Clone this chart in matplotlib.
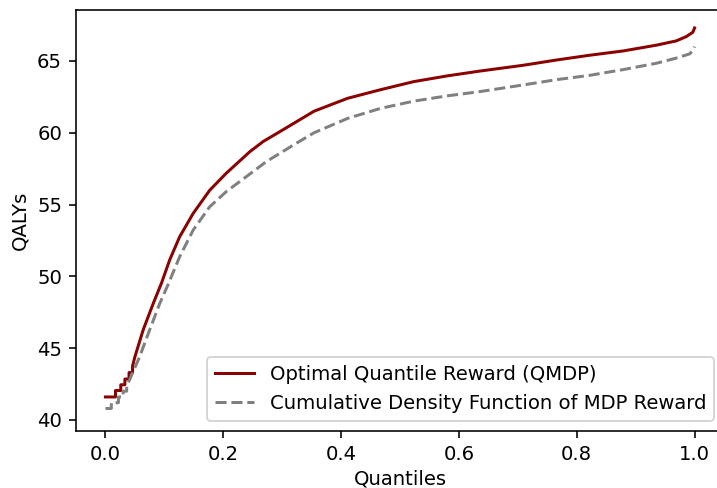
import matplotlib
matplotlib.use('Agg')
import matplotlib.pyplot as plt

plt.rcParams['font.size'] = 9.8

# optimal quantile reward (QMDP) (steps at the low end)
qmdp_q = [0.0, 0.017, 0.017, 0.026, 0.026, 0.033, 0.033, 0.040, 0.040, 0.046, 0.046,
          0.050, 0.064, 0.081, 0.095, 0.109, 0.126, 0.149, 0.177, 0.205, 0.245,
          0.268, 0.299, 0.354, 0.411, 0.467, 0.523, 0.580, 0.636, 0.709, 0.766,
          0.822, 0.879, 0.935, 0.969, 0.986, 0.997, 1.0]
qmdp_val = [41.6, 41.6, 42.05, 42.05, 42.45, 42.45, 42.85, 42.85, 43.3, 43.3, 43.75,
            44.4, 46.27, 48.1, 49.52, 51.14, 52.76, 54.39, 56.0, 57.18, 58.68,
            59.4, 60.15, 61.5, 62.4, 63.0, 63.56, 63.96, 64.3, 64.7, 65.07,
            65.4, 65.7, 66.1, 66.4, 66.7, 67.0, 67.3]

# cdf of mdp reward
mdp_q = [0.0, 0.010, 0.010, 0.022, 0.022, 0.030, 0.030, 0.036, 0.036, 0.041,
         0.058, 0.075, 0.092, 0.106, 0.126, 0.149, 0.177, 0.205, 0.239, 0.273,
         0.324, 0.354, 0.411, 0.467, 0.523, 0.580, 0.636, 0.709, 0.766, 0.822,
         0.879, 0.935, 0.969, 0.992, 0.998, 1.0]
mdp_val = [40.8, 40.8, 41.2, 41.2, 41.6, 41.6, 42.0, 42.0, 42.4, 42.8,
           44.4, 46.27, 48.1, 49.4, 51.37, 53.23, 54.85, 55.9, 56.94, 57.99,
           59.27, 60.0, 61.0, 61.7, 62.2, 62.57, 62.87, 63.33, 63.7, 64.0,
           64.4, 64.84, 65.2, 65.5, 65.8, 66.0]

fig = plt.figure(figsize=(717/144, 488/144), dpi=144)
ax = fig.add_subplot()
fig.subplots_adjust(left=0.106, right=1.0098, bottom=0.1174, top=0.9795)

ax.plot(qmdp_q, qmdp_val, color='darkred', lw=1.5, label='Optimal Quantile Reward (QMDP)')
ax.plot(mdp_q, mdp_val, color='gray', lw=1.5, ls='--', label='Cumulative Density Function of MDP Reward')

ax.set_xlim(-0.05, 1.05)
ax.set_ylim(39.25, 68.55)
ax.set_yticks([40, 45, 50, 55, 60, 65])
ax.set_xlabel('Quantiles', labelpad=3)
ax.set_ylabel('QALYs')
ax.legend(loc='lower right')

fig.savefig('out.png', dpi=144)
